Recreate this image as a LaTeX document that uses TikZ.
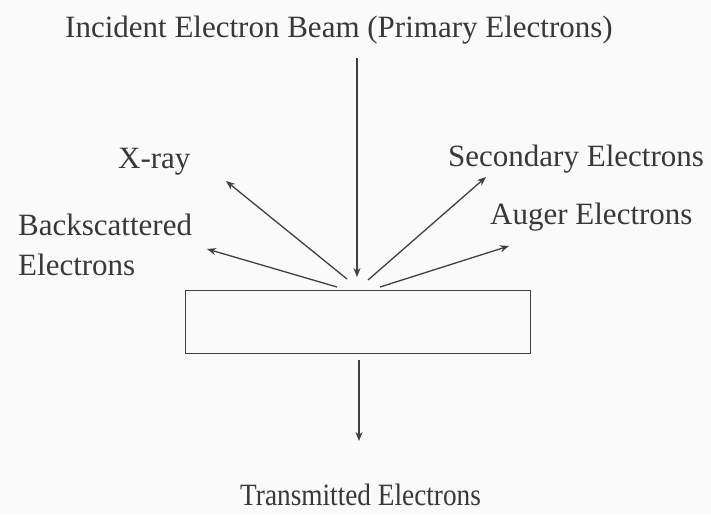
\documentclass[tikz,border=0pt]{standalone}
\usepackage{fontspec}
\setmainfont{Liberation Serif}
\usetikzlibrary{arrows.meta}
\begin{document}
\begin{tikzpicture}[x=1pt,y=-1pt,
  lbl/.style={font=\fontsize{31}{36}\selectfont, text=black!78, inner sep=0pt, anchor=base west},
  ray/.style={draw=black!75, line width=1.3pt, -{Stealth[length=9pt,width=7pt]}}]
\useasboundingbox[fill=black!2] (0,0) rectangle (711,515);
\node[draw=black!75, line width=1.3pt, minimum width=345pt, minimum height=63pt, inner sep=0pt, anchor=north west] (sample) at (185,290) {};
\coordinate (inTop) at (357,58);
\coordinate (hit) at (357,277);
\coordinate (xo) at (347,279);
\coordinate (xe) at (226,181);
\coordinate (bo) at (337,287);
\coordinate (be) at (207,249);
\coordinate (so) at (368,280);
\coordinate (se) at (486,177);
\coordinate (ao) at (380,287);
\coordinate (ae) at (509,246);
\coordinate (to) at (359,360);
\coordinate (te) at (359,441);
\draw[ray] (inTop) -- (hit);
\draw[ray] (xo) -- (xe);
\draw[ray] (bo) -- (be);
\draw[ray] (so) -- (se);
\draw[ray] (ao) -- (ae);
\draw[ray] (to) -- (te);
\node[lbl] (tinc) at (65,37) {Incident Electron Beam (Primary Electrons)};
\node[lbl] (txr) at (118,168) {X-ray};
\node[lbl] (tsec) at (448,166) {Secondary Electrons};
\node[lbl] (taug) at (490,224) {Auger Electrons};
\node[lbl] (tback) at (18,235) {Backscattered};
\node[lbl] (tbe) at (18,275) {Electrons};
\node[lbl] (ttr) at (240,505) {\scalebox{0.88}[1]{Transmitted Electrons}};
\end{tikzpicture}
\end{document}
